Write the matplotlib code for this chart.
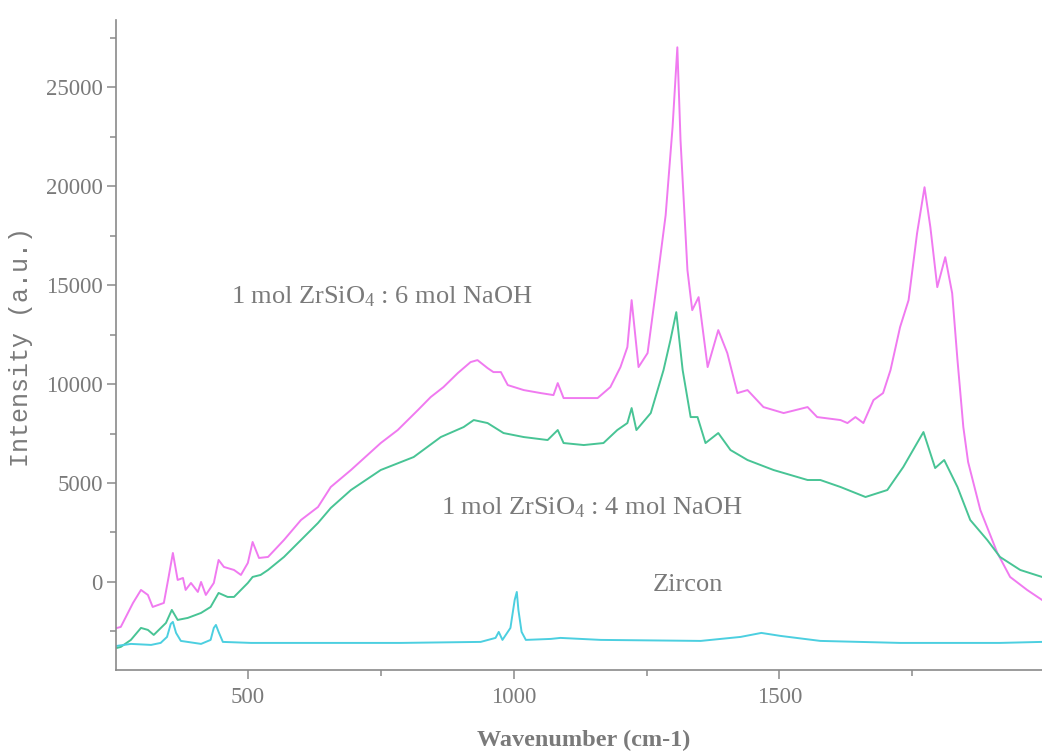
import matplotlib
matplotlib.use("Agg")
import matplotlib.pyplot as plt
from matplotlib.ticker import MultipleLocator

plt.rcParams["mathtext.fontset"] = "custom"
plt.rcParams["mathtext.rm"] = "Liberation Serif"
plt.rcParams["mathtext.it"] = "Liberation Serif"

# Raman spectra (wavenumber in cm-1, intensity in a.u.)
naoh6_x = [254, 261, 284, 299, 312, 321, 342, 351, 359, 368, 378, 383, 393, 406,
           412, 421, 436, 445, 455, 474, 487, 500, 509, 521, 538, 568, 600, 632,
           656, 694, 750, 782, 820, 844, 868, 895, 919, 932, 951, 962, 976, 989,
           1019, 1051, 1075, 1083, 1094, 1132, 1158, 1182, 1201, 1214, 1222, 1235,
           1252, 1271, 1286, 1299, 1308, 1314, 1327, 1336, 1348, 1365, 1385, 1402,
           1421, 1440, 1470, 1508, 1553, 1571, 1615, 1628, 1643, 1658, 1677, 1695,
           1709, 1727, 1743, 1759, 1773, 1784, 1797, 1812, 1825, 1835, 1846, 1855,
           1878, 1910, 1934, 1966, 1994]
naoh6_y = [-2323, -2273, -1061, -404, -657, -1263, -1061, 253, 1465, 101, 202, -404,
           -51, -505, 0, -657, -51, 1111, 758, 606, 354, 960, 2020, 1212, 1263, 2121,
           3131, 3788, 4798, 5657, 7020, 7677, 8687, 9343, 9848, 10556, 11111, 11212,
           10808, 10606, 10606, 9949, 9697, 9545, 9444, 10050, 9293, 9293, 9293,
           9848, 10859, 11869, 14242, 10859, 11566, 15404, 18535, 22980, 27020,
           22323, 15758, 13737, 14394, 10859, 12727, 11566, 9545, 9697, 8838, 8535,
           8838, 8333, 8182, 8030, 8333, 8030, 9192, 9545, 10707, 12879, 14242,
           17626, 19949, 17929, 14899, 16414, 14596, 11212, 7828, 6061, 3636, 1465,
           253, -404, -909]

naoh4_x = [254, 261, 280, 299, 312, 323, 346, 357, 368, 387, 412, 430, 445, 462,
           474, 500, 509, 524, 538, 568, 600, 632, 656, 694, 750, 812, 863, 906,
           925, 951, 981, 1019, 1064, 1083, 1094, 1132, 1169, 1195, 1214, 1222,
           1231, 1258, 1282, 1295, 1306, 1318, 1333, 1346, 1361, 1385, 1408, 1440,
           1489, 1553, 1577, 1615, 1662, 1703, 1733, 1759, 1771, 1793, 1810, 1835,
           1859, 1891, 1915, 1953, 1994]
naoh4_y = [-3333, -3283, -2929, -2323, -2424, -2677, -2071, -1414, -1919, -1818,
           -1566, -1263, -556, -758, -758, -51, 253, 354, 606, 1263, 2121, 2980,
           3737, 4646, 5657, 6313, 7323, 7828, 8182, 8030, 7525, 7323, 7172, 7677,
           7020, 6919, 7020, 7677, 8030, 8788, 7677, 8535, 10707, 12222, 13636,
           10707, 8333, 8333, 7020, 7525, 6667, 6162, 5657, 5152, 5152, 4798, 4293,
           4646, 5808, 7020, 7576, 5757, 6162, 4798, 3131, 2121, 1263, 606, 253]

zircon_x = [254, 280, 318, 336, 348, 355, 359, 365, 374, 412, 430, 436, 440, 445,
            453, 506, 788, 938, 966, 972, 979, 994, 1002, 1006, 1009, 1015, 1023,
            1070, 1088, 1164, 1352, 1427, 1466, 1502, 1577, 1727, 1915, 1994]
zircon_y = [-3232, -3131, -3182, -3081, -2778, -2121, -2020, -2576, -2980, -3131,
            -2929, -2323, -2172, -2525, -3030, -3081, -3081, -3030, -2828, -2525,
            -2929, -2323, -909, -505, -1414, -2525, -2929, -2879, -2828, -2929,
            -2980, -2778, -2576, -2727, -2980, -3081, -3081, -3030]

series = [
    (naoh6_x, naoh6_y, "#f07af0"),
    (naoh4_x, naoh4_y, "#48c495"),
    (zircon_x, zircon_y, "#4ccfe0"),
]

labels = [
    (468, 14394, "1 mol ZrSiO$_4$ : 6 mol NaOH"),
    (863, 3737, "1 mol ZrSiO$_4$ : 4 mol NaOH"),
    (1262, -150, "Zircon"),
]

grey = "#7a7a7a"
axis_grey = "#8a8a8a"
serif = ["Liberation Serif", "DejaVu Serif"]

fig = plt.figure(figsize=(10.42, 7.53), dpi=100)
ax = fig.add_axes([116 / 1042, 1 - 670 / 753, 1 - 116 / 1042, 650 / 753])

for xs, ys, col in series:
    ax.plot(xs, ys, color=col, lw=1.4, solid_joinstyle="round")

for x, y, s in labels:
    ax.text(x, y, s, fontsize=19, color=grey, family=serif, va="center", ha="left")

ax.set_xlim(252, 1994)
ax.set_ylim(-4450, 28400)

ax.xaxis.set_major_locator(MultipleLocator(500))
ax.xaxis.set_minor_locator(MultipleLocator(250))
ax.yaxis.set_major_locator(MultipleLocator(5000))
ax.yaxis.set_minor_locator(MultipleLocator(2500))

for side in ("top", "right"):
    ax.spines[side].set_visible(False)
for side in ("left", "bottom"):
    ax.spines[side].set_color(axis_grey)
    ax.spines[side].set_linewidth(1.2)

ax.tick_params(which="major", direction="out", length=6.5, width=1.1, color=axis_grey,
               labelcolor=grey, labelsize=16.5)
ax.tick_params(which="minor", direction="out", length=4.5, width=1.1, color=axis_grey)
ax.tick_params(axis="y", pad=3)
ax.tick_params(axis="x", pad=6)
for lab in ax.get_xticklabels() + ax.get_yticklabels():
    lab.set_family(serif)

ax.set_xlabel("Wavenumber (cm-1)", fontsize=17.5, color=grey, family=serif,
              fontweight="semibold", va="center")
ax.xaxis.set_label_coords(0.505, -(740 - 670) / 650)
ax.set_ylabel("Intensity (a.u.)", fontsize=18, color=grey,
              family=["Liberation Mono", "DejaVu Sans Mono"], va="center")
ax.yaxis.set_label_coords(-(116 - 21) / 926, (670 - 347) / 650)

fig.savefig("out.png", dpi=100)
